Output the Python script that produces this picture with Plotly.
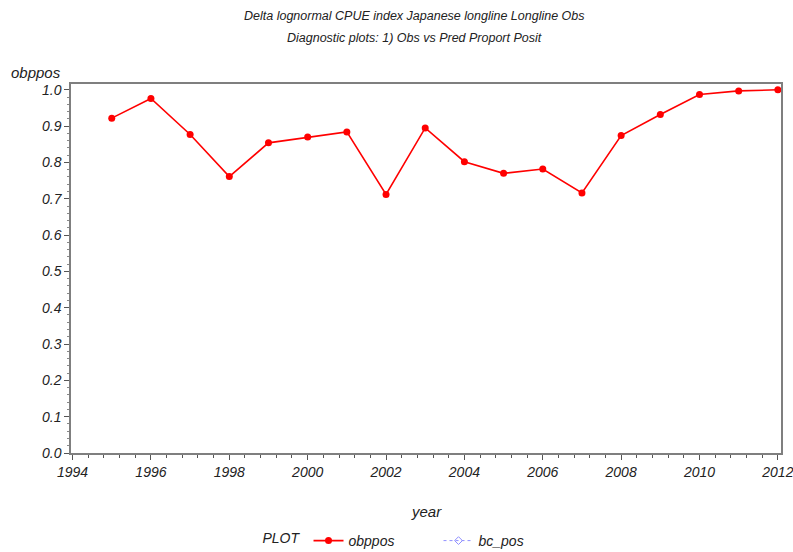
import plotly.graph_objects as go

years = [1995, 1996, 1997, 1998, 1999, 2000, 2001, 2002, 2003, 2004,
         2005, 2006, 2007, 2008, 2009, 2010, 2011, 2012]
obppos = [0.922, 0.976, 0.877, 0.761, 0.854, 0.870, 0.884, 0.712, 0.895, 0.802,
          0.770, 0.782, 0.716, 0.874, 0.932, 0.987, 0.997, 1.000]
bc_pos = [None] * len(years)

title_lines = ["Delta lognormal CPUE index Japanese longline Longline Obs",
               "Diagnostic plots: 1) Obs vs Pred Proport Posit"]

FONT = "Liberation Sans, Arial, sans-serif"
ital = dict(family=FONT, size=14, color="#222222", style="italic")
ital_big = dict(family=FONT, size=15, color="#222222", style="italic")
ital_title = dict(family=FONT, size=12.5, color="#222222", style="italic")

# plot area geometry (pixels)
L, R, T, B = 71, 12, 84, 99
H = 552 - T - B

def py(ypix):
    return (552 - B - ypix) / H

fig = go.Figure()
fig.add_trace(go.Scatter(
    x=years, y=obppos, name="obppos", mode="lines+markers",
    line=dict(color="#ff0000", width=1.6),
    marker=dict(color="#ff0000", size=7, symbol="circle"),
))
fig.add_trace(go.Scatter(
    x=years, y=bc_pos, name="bc_pos", mode="lines+markers",
    line=dict(color="#9090ff", width=1, dash="dot"),
    marker=dict(color="#9090ff", size=6, symbol="diamond-open"),
))

axis_common = dict(
    showline=True, linecolor="#7f7f7f", linewidth=1.5, mirror=True,
    showgrid=False, zeroline=False,
    ticks="outside", ticklen=5, tickcolor="#555555", tickwidth=1,
    tickfont=ital, ticklabeloverflow="allow",
)

fig.update_xaxes(
    **axis_common,
    range=[1993.96, 2012.08], tick0=1994, dtick=2,
    minor=dict(ticks="outside", ticklen=3, dtick=0.4, tick0=1994, tickcolor="#555555"),
)
fig.update_yaxes(
    **axis_common,
    range=[0, 1.016], tick0=0, dtick=0.1, tickformat=".1f",
    minor=dict(ticks="outside", ticklen=2, dtick=0.02, tick0=0, tickcolor="#888888"),
)

annotations = [
    dict(text=title_lines[0], xref="paper", yref="paper", x=0.4845, y=py(16),
         xanchor="center", yanchor="middle", showarrow=False, font=ital_title),
    dict(text=title_lines[1], xref="paper", yref="paper", x=0.4845, y=py(38),
         xanchor="center", yanchor="middle", showarrow=False, font=ital_title),
    dict(text="obppos", xref="paper", yref="paper", x=(9 - L) / 710, y=py(72),
         xanchor="left", yanchor="middle", showarrow=False, font=ital_big),
    dict(text="year", xref="paper", yref="paper", x=0.5, y=py(511),
         xanchor="center", yanchor="middle", showarrow=False, font=ital_big),
]

fig.update_layout(
    width=793, height=552,
    margin=dict(l=L, r=R, t=T, b=B, autoexpand=False),
    paper_bgcolor="white", plot_bgcolor="white",
    font=dict(family=FONT, color="#222222"),
    showlegend=True,
    legend=dict(
        orientation="h", x=(415 - L) / 710, xanchor="center",
        y=py(541), yanchor="middle",
        title=dict(text="PLOT", font=ital, side="left"),
        font=ital, itemwidth=30, tracegroupgap=0, entrywidth=85,
    ),
    annotations=annotations,
)

fig.write_html("out.html")
